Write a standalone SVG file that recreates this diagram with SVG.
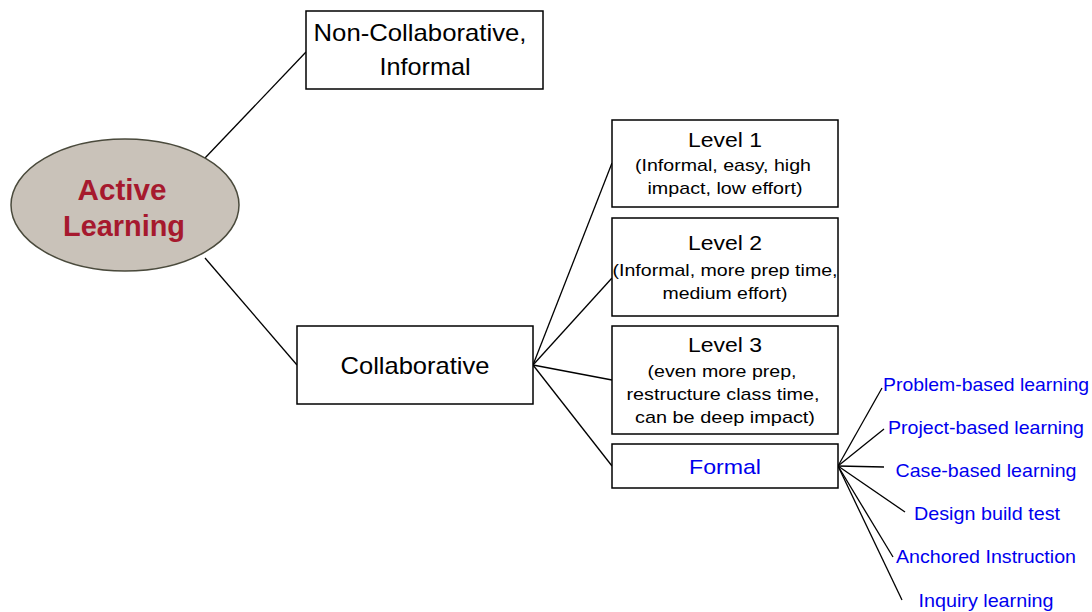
<svg xmlns="http://www.w3.org/2000/svg" width="1092" height="612" viewBox="0 0 1092 612">
<style>
.box{fill:#fff;stroke:#000;stroke-width:1.5}
.t{font-family:"Liberation Sans",Arial,sans-serif;text-anchor:middle;fill:#000}
.b{fill:#0000ee}
.r{fill:#a6192e;font-weight:bold;font-size:29px}
.c line{stroke:#000;stroke-width:1.3}
</style>
<rect width="1092" height="612" fill="#fff"/>
<g id="connectors" class="c">
<line x1="205" y1="158" x2="306" y2="52"/>
<line x1="205" y1="258" x2="297" y2="365"/>
<line x1="533" y1="365" x2="612" y2="163"/>
<line x1="533" y1="365" x2="612" y2="278"/>
<line x1="533" y1="365" x2="612" y2="380"/>
<line x1="533" y1="365" x2="612" y2="466"/>
<line x1="838" y1="466" x2="882" y2="388"/>
<line x1="838" y1="466" x2="884" y2="429"/>
<line x1="838" y1="466" x2="884" y2="467"/>
<line x1="838" y1="466" x2="905" y2="512"/>
<line x1="838" y1="466" x2="893" y2="557"/>
<line x1="838" y1="466" x2="902" y2="600"/>
</g>
<g id="active-learning">
<ellipse cx="125" cy="205" rx="114" ry="66" fill="#c9c2b9" stroke="#4a4a3c" stroke-width="1.5"/>
<text class="t r" x="122" y="200" textLength="89" lengthAdjust="spacingAndGlyphs">Active</text>
<text class="t r" x="124" y="236" textLength="122" lengthAdjust="spacingAndGlyphs">Learning</text>
</g>
<g id="non-collaborative">
<rect class="box" x="306" y="11" width="237" height="78"/>
<text class="t" x="420" y="41" font-size="24" textLength="213" lengthAdjust="spacingAndGlyphs">Non-Collaborative,</text>
<text class="t" x="425" y="75" font-size="24" textLength="91" lengthAdjust="spacingAndGlyphs">Informal</text>
</g>
<g id="collaborative">
<rect class="box" x="297" y="326" width="236" height="78"/>
<text class="t" x="415" y="374" font-size="24" textLength="149" lengthAdjust="spacingAndGlyphs">Collaborative</text>
</g>
<g id="level1">
<rect class="box" x="612" y="120" width="226" height="87"/>
<text class="t" x="725" y="147" font-size="20" textLength="74" lengthAdjust="spacingAndGlyphs">Level 1</text>
<text class="t" x="723" y="171" font-size="17" textLength="176" lengthAdjust="spacingAndGlyphs">(Informal, easy, high</text>
<text class="t" x="725" y="194" font-size="17" textLength="155" lengthAdjust="spacingAndGlyphs">impact, low effort)</text>
</g>
<g id="level2">
<rect class="box" x="612" y="218" width="226" height="98"/>
<text class="t" x="725" y="250" font-size="20" textLength="74" lengthAdjust="spacingAndGlyphs">Level 2</text>
<text class="t" x="725" y="276" font-size="17" textLength="225" lengthAdjust="spacingAndGlyphs">(Informal, more prep time,</text>
<text class="t" x="725" y="299" font-size="17" textLength="125" lengthAdjust="spacingAndGlyphs">medium effort)</text>
</g>
<g id="level3">
<rect class="box" x="612" y="326" width="226" height="108"/>
<text class="t" x="725" y="352" font-size="20" textLength="74" lengthAdjust="spacingAndGlyphs">Level 3</text>
<text class="t" x="722" y="377" font-size="17" textLength="149" lengthAdjust="spacingAndGlyphs">(even more prep,</text>
<text class="t" x="723" y="400" font-size="17" textLength="193" lengthAdjust="spacingAndGlyphs">restructure class time,</text>
<text class="t" x="725" y="423" font-size="17" textLength="180" lengthAdjust="spacingAndGlyphs">can be deep impact)</text>
</g>
<g id="formal">
<rect class="box" x="612" y="444" width="226" height="44"/>
<text class="t b" x="725" y="474" font-size="21" textLength="72" lengthAdjust="spacingAndGlyphs">Formal</text>
</g>
<g id="problem-based"><text class="t b" x="986" y="391" font-size="19" textLength="206" lengthAdjust="spacingAndGlyphs">Problem-based learning</text></g>
<g id="project-based"><text class="t b" x="986" y="434" font-size="19" textLength="196" lengthAdjust="spacingAndGlyphs">Project-based learning</text></g>
<g id="case-based"><text class="t b" x="986" y="477" font-size="19" textLength="181" lengthAdjust="spacingAndGlyphs">Case-based learning</text></g>
<g id="design-build-test"><text class="t b" x="987" y="520" font-size="19" textLength="146" lengthAdjust="spacingAndGlyphs">Design build test</text></g>
<g id="anchored"><text class="t b" x="986" y="563" font-size="19" textLength="180" lengthAdjust="spacingAndGlyphs">Anchored Instruction</text></g>
<g id="inquiry"><text class="t b" x="986" y="607" font-size="19" textLength="135" lengthAdjust="spacingAndGlyphs">Inquiry learning</text></g>
</svg>
